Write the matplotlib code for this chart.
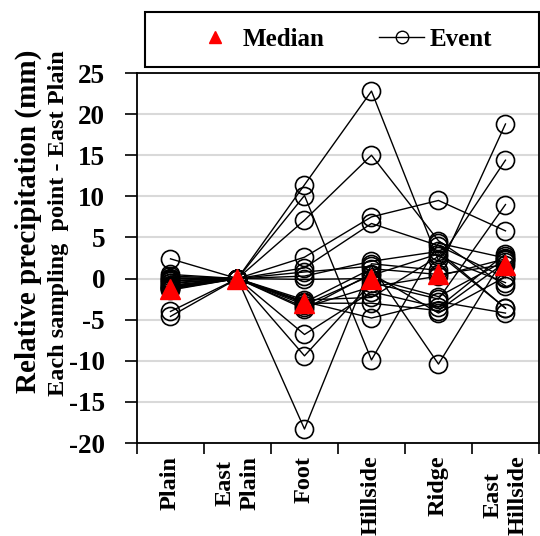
import numpy as np
import matplotlib
matplotlib.use("Agg")
import matplotlib.pyplot as plt
from matplotlib.lines import Line2D
from matplotlib.patches import Rectangle

plt.rcParams['font.family'] = ['Liberation Serif', 'DejaVu Serif']
plt.rcParams['font.weight'] = 'bold'

# sampling points (left to right)
sites = ['Plain', 'East\nPlain', 'Foot', 'Hillside', 'Ridge', 'East\nHillside']

# relative precipitation of each event (mm)
# order: Plain, East Plain, Foot, Hillside, Ridge, East Hillside
ev01 = [0.1, 0, 11.4, 22.8, 2.2, 14.4]
ev02 = [-0.6, 0, 10.1, -9.9, 4.3, 2.5]
ev03 = [-1.0, 0, 7.1, 15.0, 4.6, -0.9]
ev04 = [2.4, 0, 2.6, 7.5, 9.5, 5.8]
ev05 = [-0.3, 0, 1.3, 6.7, 4.0, 0.1]
ev06 = [-1.3, 0, -18.3, 1.8, 1.0, 18.8]
ev07 = [-4.0, 0, -9.4, -0.5, -2.5, 9.0]
ev08 = [-4.6, 0, -6.8, -1.6, -3.5, 3.0]
ev09 = [0.3, 0, 0.8, 1.5, -10.4, 2.8]
ev10 = [-0.8, 0, 0.3, 2.1, 3.3, -3.6]
ev11 = [-1.2, 0, -0.1, 0.0, -2.2, 2.2]
ev12 = [0.0, 0, -2.6, -2.3, 2.7, -0.5]
ev13 = [-0.5, 0, -2.8, -4.8, -2.8, -4.2]
ev14 = [-1.4, 0, -2.9, 1.2, 0.5, 1.7]
ev15 = [0.5, 0, -3.0, -3.0, -3.9, 2.0]
ev16 = [-0.2, 0, -3.2, 0.4, 3.0, -3.6]
ev17 = [-0.9, 0, -3.5, -1.0, 0.3, 2.4]
ev18 = [-1.1, 0, -3.7, 0.6, -4.2, 0.2]
events = [ev01, ev02, ev03, ev04, ev05, ev06, ev07, ev08, ev09,
          ev10, ev11, ev12, ev13, ev14, ev15, ev16, ev17, ev18]

# median of all events at each point
medians = [-1.3, 0.0, -3.0, 0.0, 0.5, 1.7]

yticks = [25, 20, 15, 10, 5, 0, -5, -10, -15, -20]

fig = plt.figure(figsize=(5.4, 5.36), dpi=100)
ax = fig.add_axes([0.2537, 0.1735, 0.7444, 0.6903])

x = np.arange(1, len(sites) + 1)
for ev in events:
    ax.plot(x, ev, '-', color='black', lw=1.0, marker='o', ms=13,
            mfc='none', mec='black', mew=1.2, zorder=3)
ax.plot(x, medians, linestyle='none', marker='^', ms=14, color='#ff0000',
        mec='#ff0000', zorder=5)

ax.set_xlim(0.5, len(sites) + 0.5)
ax.set_ylim(-20, 25)
ax.set_yticks(yticks)
ax.set_yticklabels([str(v) for v in yticks], fontsize=19.5, fontweight='bold')
ax.yaxis.grid(True, color='#d9d9d9', lw=1.5, zorder=0)
ax.set_axisbelow(True)

ax.set_xticks(x)
ax.set_xticklabels(sites, rotation=90, fontsize=17.5, fontweight='bold',
                   va='top', ha='center', multialignment='center',
                   linespacing=1.2)
ax.set_xticks(np.arange(0.5, len(sites) + 1, 1), minor=True)
ax.tick_params(axis='x', which='major', length=0, pad=9)
ax.tick_params(axis='x', which='minor', length=8, width=1.2, direction='out')
ax.tick_params(axis='y', length=9, width=1.2, direction='out', pad=14)
for sp in ax.spines.values():
    sp.set_linewidth(1.3)

fig.text(28 / 540, 0.587, 'Relative precipitation (mm)', rotation=90,
         ha='center', va='center', fontsize=21, fontweight='bold')
fig.text(59 / 540, 0.583, 'Each sampling  point - East Plain', rotation=90,
         ha='center', va='center', fontsize=17.5, fontweight='bold')

# legend box
fig.patches.append(Rectangle((145 / 540, 1 - 67 / 536), 394 / 540, 55 / 536,
                             transform=fig.transFigure, fill=False,
                             edgecolor='black', lw=1.5))
handles = [Line2D([], [], linestyle='none', marker='^', ms=9, color='#ff0000'),
           Line2D([], [], color='black', lw=1.0, marker='o', ms=9,
                  mfc='none', mec='black', mew=1.0)]
fig.legend(handles, ['Median', 'Event'], loc='center',
           bbox_to_anchor=(342 / 540, 1 - 39.5 / 536), ncol=2, frameon=False,
           prop={'size': 18, 'weight': 'bold'}, handlelength=1.8,
           handletextpad=0.2, columnspacing=2.2)

fig.savefig('out.png', dpi=100)
